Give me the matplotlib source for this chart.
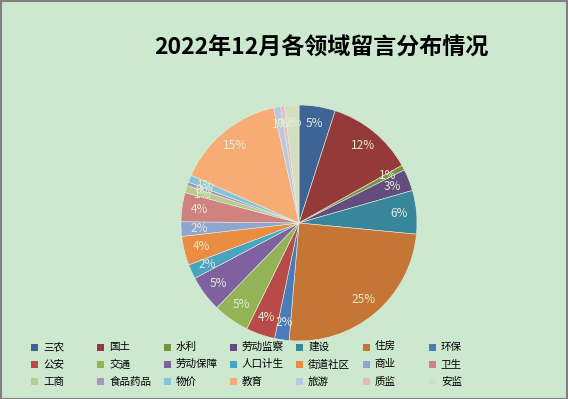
import matplotlib.pyplot as plt
from matplotlib.patches import Rectangle

plt.rcParams['font.family'] = ['Noto Sans CJK SC', 'DejaVu Sans']

# ==========================
# DATA
# ==========================
categories = ["三农", "国土", "水利", "劳动监察", "建设", "住房", "环保",
              "公安", "交通", "劳动保障", "人口计生", "街道社区", "商业", "卫生",
              "工商", "食品药品", "物价", "教育", "旅游", "质监", "安监"]
shares = [5, 12, 0.7, 3, 6, 25, 2,
          4, 5, 5, 2, 4, 2, 4,
          1, 0.5, 1, 15, 1, 0.5, 2]
colors = ["#3E6496", "#943B3A", "#77923E", "#634C7E", "#37869C", "#C57634", "#4A7BBA",
          "#B84A47", "#94B356", "#7E62A0", "#48A5C2", "#EA8C41", "#8BA6D0", "#D08280",
          "#B7CC8D", "#A896C0", "#85C3D8", "#F7AC76", "#B9C7E2", "#E5BBBB", "#D3DFC0"]
title = "2022年12月各领域留言分布情况"

BG = "#CCE8CF"

# ==========================
# FIGURE
# ==========================
fig = plt.figure(figsize=(5.68, 3.99), dpi=100, facecolor=BG)

# pie centre ~ (299, 223) px, radius ~118 px
W, H = 568, 399
cx, cy, r = 299, 223, 118
ax = fig.add_axes([(cx - r) / W, (H - cy - r) / H, 2 * r / W, 2 * r / H])
ax.set_facecolor(BG)

wedges, texts, autotexts = ax.pie(
    shares, colors=colors, startangle=90, counterclock=False,
    autopct="%.0f%%", pctdistance=0.85, radius=1,
    wedgeprops=dict(edgecolor="#E8EEE0", linewidth=0.4),
    textprops=dict(color="#E4EBD2", fontsize=8.5))
ax.set_xlim(-1, 1)
ax.set_ylim(-1, 1)
ax.set_aspect("equal")
ax.axis("off")

fig.text(321 / W, 1 - 48 / H, title, ha="center", va="center",
         fontsize=16.6, fontweight="bold", color="black")

# legend, row by row like the original
for i, name in enumerate(categories):
    row, col = divmod(i, 7)
    x = 34.5 + col * 66.3
    y = 347 + row * 17.3
    fig.patches.append(Rectangle(((x - 3.5) / W, 1 - (y + 3.5) / H), 7 / W, 7 / H,
                                 transform=fig.transFigure, facecolor=colors[i],
                                 edgecolor="none"))
    fig.text((x + 8.5) / W, 1 - y / H, name, ha="left", va="center",
             fontsize=7.6, color="black")

# grey frame
fig.patches.append(Rectangle((0.001, 0.001), 0.997, 0.996, transform=fig.transFigure,
                             fill=False, edgecolor="#808080", linewidth=1.5))

plt.savefig("out.png", dpi=100, facecolor=BG)
